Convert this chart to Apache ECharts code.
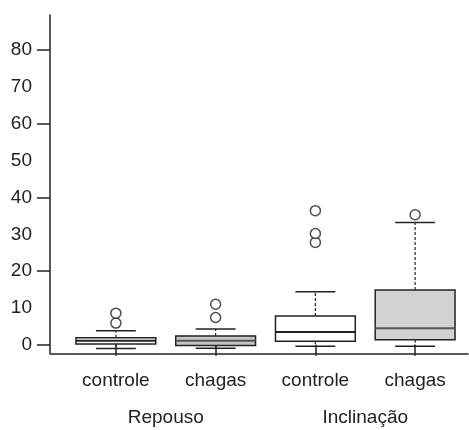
<!DOCTYPE html>
<html>
<head>
<meta charset="utf-8">
<script src="https://cdn.jsdelivr.net/npm/echarts@6/dist/echarts.min.js"></script>
<style>html,body{margin:0;padding:0;background:#fff}#c{width:469px;height:430px}</style>
</head>
<body>
<div id="c"></div>
<script>
const categories = ['controle', 'chagas', 'controle', 'chagas'];
const groups = ['Repouso', 'Inclinação'];
const lowWhisker = [-1.0, -0.9, -0.4, -0.4];
const q1 = [0.2, -0.2, 1.0, 1.4];
const median = [1.1, 1.1, 3.45, 4.5];
const q3 = [1.9, 2.4, 7.8, 14.9];
const highWhisker = [3.8, 4.3, 14.4, 33.2];
const outliers = [[5.9, 8.6], [7.4, 11.0], [27.8, 30.2, 36.4], [35.3]];
const yLabelValues = [0, 10, 20, 30, 40, 50, 60, 70, 80];
const yTickValues = [0, 20, 40, 60, 80];
const boxFill = ['#ffffff', '#c4c4c4', '#ffffff', '#d2d2d2'];
const medianColor = ['#222', '#555', '#222', '#555'];

const yMin = -2.3, yMax = 89.5;
const FONT = 'Liberation Sans, Arial, sans-serif';
const INK = '#222';

const boxData = categories.map((c, i) => [i, lowWhisker[i], q1[i], median[i], q3[i], highWhisker[i]]);
const outlierData = [];
outliers.forEach((arr, i) => arr.forEach(v => outlierData.push([i, v])));

const chart = echarts.init(document.getElementById('c'), null, {renderer: 'canvas'});
chart.setOption({
  animation: false,
  backgroundColor: '#fff',
  grid: [
    {left: 66, right: 4, top: 15, bottom: 76.7},
    {left: 50, right: 1, top: 15, bottom: 76.7},
    {left: 66, right: 4, top: 15, bottom: 76.7}
  ],
  xAxis: [
    {
      type: 'category', gridIndex: 0, data: categories, boundaryGap: true,
      axisLine: {show: false},
      axisTick: {show: true, alignWithLabel: true, length: 11, lineStyle: {color: INK, width: 1.5}},
      axisLabel: {margin: 18, fontSize: 19, fontFamily: FONT, color: '#222'},
      splitLine: {show: false}
    },
    {
      type: 'value', gridIndex: 1, min: 0, max: 1,
      axisLine: {show: true, onZero: false, lineStyle: {color: INK, width: 1.5}},
      axisTick: {show: false}, axisLabel: {show: false}, splitLine: {show: false}
    },
    {
      type: 'category', gridIndex: 2, data: groups, boundaryGap: true,
      axisLine: {show: false}, axisTick: {show: false},
      axisLabel: {margin: 55, fontSize: 19, fontFamily: FONT, color: '#222'},
      splitLine: {show: false}
    }
  ],
  yAxis: [
    {
      type: 'value', gridIndex: 0, min: yMin, max: yMax,
      axisLine: {show: false}, axisTick: {show: false}, axisLabel: {show: false}, splitLine: {show: false}
    },
    {
      type: 'value', gridIndex: 1, min: yMin, max: yMax,
      axisLine: {show: true, onZero: false, lineStyle: {color: INK, width: 1.5}},
      axisTick: {show: true, length: 13, customValues: yTickValues, lineStyle: {color: INK, width: 1.5}},
      axisLabel: {margin: 18, fontSize: 19, fontFamily: FONT, color: '#222', customValues: yLabelValues},
      splitLine: {show: false}
    },
    {
      type: 'value', gridIndex: 2, min: yMin, max: yMax, show: false
    }
  ],
  series: [
    {
      type: 'custom',
      xAxisIndex: 0, yAxisIndex: 0,
      data: boxData,
      encode: {x: 0, y: [1, 2, 3, 4, 5]},
      renderItem: function (params, api) {
        const i = api.value(0);
        const lo = api.coord([i, api.value(1)]);
        const b = api.coord([i, api.value(2)]);
        const m = api.coord([i, api.value(3)]);
        const t = api.coord([i, api.value(4)]);
        const hi = api.coord([i, api.value(5)]);
        const bw = api.size([1, 0])[0] * 0.8;
        const cx = lo[0];
        const cap = bw / 2;
        const stroke = {stroke: INK, lineWidth: 1.5};
        return {
          type: 'group',
          children: [
            {type: 'line', shape: {x1: cx, y1: t[1], x2: cx, y2: hi[1]}, style: {stroke: INK, lineWidth: 1.2, lineDash: [3, 2]}},
            {type: 'line', shape: {x1: cx, y1: b[1], x2: cx, y2: lo[1]}, style: {stroke: INK, lineWidth: 1.2, lineDash: [3, 2]}},
            {type: 'line', shape: {x1: cx - cap / 2, y1: hi[1], x2: cx + cap / 2, y2: hi[1]}, style: stroke},
            {type: 'line', shape: {x1: cx - cap / 2, y1: lo[1], x2: cx + cap / 2, y2: lo[1]}, style: stroke},
            {type: 'rect', shape: {x: cx - bw / 2, y: t[1], width: bw, height: b[1] - t[1]}, style: {fill: boxFill[i], stroke: INK, lineWidth: 1.5}},
            {type: 'line', shape: {x1: cx - bw / 2, y1: m[1], x2: cx + bw / 2, y2: m[1]}, style: {stroke: medianColor[i], lineWidth: 2}}
          ]
        };
      }
    },
    {
      type: 'scatter',
      xAxisIndex: 0, yAxisIndex: 0,
      data: outlierData,
      symbol: 'circle',
      symbolSize: 10,
      itemStyle: {color: '#fff', borderColor: INK, borderWidth: 1.5}
    }
  ]
});
</script>
</body>
</html>
